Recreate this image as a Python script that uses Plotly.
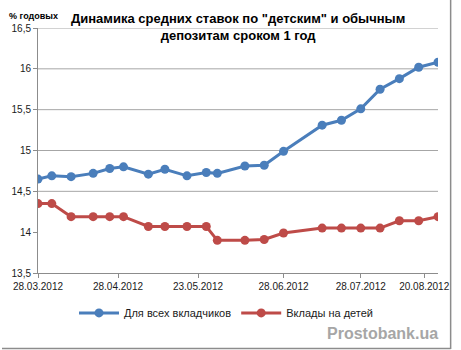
import plotly.graph_objects as go

# Observation dates (weekly survey of bank deposit rates, 1-year term)
dates = [
    "2012-03-28", "2012-04-02", "2012-04-09", "2012-04-17", "2012-04-23",
    "2012-04-28", "2012-05-07", "2012-05-13", "2012-05-21", "2012-05-28",
    "2012-06-01", "2012-06-11", "2012-06-18", "2012-06-25", "2012-07-09",
    "2012-07-16", "2012-07-23", "2012-07-30", "2012-08-06", "2012-08-13",
    "2012-08-20",
]

# Average rate for all depositors, % per annum
rate_all = [
    14.65, 14.69, 14.68, 14.72, 14.78, 14.80, 14.71, 14.77, 14.69, 14.73,
    14.72, 14.81, 14.82, 14.99, 15.31, 15.37, 15.51, 15.75, 15.88, 16.02,
    16.08,
]

# Average rate for deposits opened in a child's name, % per annum
rate_children = [
    14.35, 14.35, 14.19, 14.19, 14.19, 14.19, 14.07, 14.07, 14.07, 14.07,
    13.90, 13.90, 13.91, 13.99, 14.05, 14.05, 14.05, 14.05, 14.14, 14.14,
    14.19,
]

series_names = ["Для всех вкладчиков", "Вклады на детей"]
series_colors = ["#4a7ebb", "#be4b48"]

# Axis labelling
x_tick_dates = ["2012-03-28", "2012-04-26", "2012-05-25", "2012-06-25",
                "2012-07-23", "2012-08-15"]
x_tick_text = ["28.03.2012", "28.04.2012", "23.05.2012", "28.06.2012",
               "28.07.2012", "20.08.2012"]
y_ticks = [13.5, 14, 14.5, 15, 15.5, 16, 16.5]
grid_levels = [14.5, 15, 15.5, 16, 16.5]

FONT = "Liberation Sans"

fig = go.Figure()
for name, color, values in zip(series_names, series_colors,
                               [rate_all, rate_children]):
    fig.add_trace(go.Scatter(
        x=dates, y=values, name=name, mode="lines+markers",
        line=dict(color=color, width=3),
        marker=dict(color=color, size=9, symbol="circle"),
    ))

# Horizontal guide lines
for lvl in grid_levels:
    fig.add_shape(type="line", xref="paper", yref="y", x0=0, x1=1,
                  y0=lvl, y1=lvl, line=dict(color="#a6a6a6", width=1),
                  layer="below")

# Chart-area frame (right and bottom edges)
fig.add_shape(type="line", xref="paper", yref="paper",
              x0=1.0316, x1=1.0316, y0=-0.31, y1=1.115,
              line=dict(color="#8c8c8c", width=1.5))
fig.add_shape(type="line", xref="paper", yref="paper",
              x0=-0.09, x1=1.0316, y0=-0.308, y1=-0.308,
              line=dict(color="#8c8c8c", width=1.5))

fig.update_layout(
    width=461, height=350,
    margin=dict(l=35, r=15, t=28, b=77),
    paper_bgcolor="white", plot_bgcolor="white",
    separators=", ",
    font=dict(family=FONT, size=10, color="#1a1a1a"),
    showlegend=True,
    legend=dict(orientation="h", x=0.47, xanchor="center",
                y=-0.163, yanchor="middle",
                font=dict(family=FONT, size=11, color="#1a1a1a"),
                itemwidth=40, tracegroupgap=0),
    annotations=[
        dict(text="<b>Динамика средних ставок по \"детским\" и обычным<br>"
                  "депозитам сроком 1 год</b>",
             xref="paper", yref="paper", x=0.499, y=1.078,
             xanchor="center", yanchor="top", showarrow=False,
             font=dict(family=FONT, size=13, color="#000000")),
        dict(text="<b>% годовых</b>", xref="paper", yref="paper",
             x=-0.078, y=1.05, xanchor="left", yanchor="middle",
             showarrow=False,
             font=dict(family=FONT, size=9, color="#000000")),
        dict(text="<b>Prostobank.ua</b>", xref="paper", yref="paper",
             x=0.861, y=-0.245, xanchor="center", yanchor="middle",
             showarrow=False,
             font=dict(family=FONT, size=16, color="#a6a6a6")),
    ],
)

fig.update_xaxes(
    type="date", range=["2012-03-28", "2012-08-20"],
    tickvals=x_tick_dates, ticktext=x_tick_text,
    showgrid=False, zeroline=False,
    showline=True, linecolor="#8c8c8c", linewidth=1,
    ticks="outside", ticklen=4, tickcolor="#8c8c8c",
    tickfont=dict(family=FONT, size=10, color="#1a1a1a"),
)
fig.update_yaxes(
    range=[13.5, 16.5], tickvals=y_ticks,
    showgrid=False, zeroline=False,
    showline=True, linecolor="#8c8c8c", linewidth=1,
    ticks="outside", ticklen=4, tickcolor="#8c8c8c",
    tickfont=dict(family=FONT, size=10, color="#1a1a1a"),
)

fig.write_html("out.html")
